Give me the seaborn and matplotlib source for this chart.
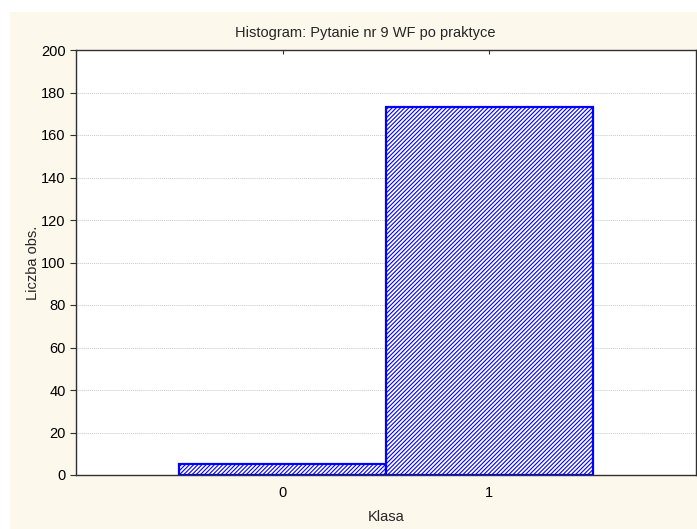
import matplotlib
matplotlib.use("Agg")
import matplotlib.pyplot as plt
import matplotlib.patches as mpatches
import pandas as pd
import seaborn as sns

klasy = ["0", "1"]
liczby = [5, 173]
y_ticks = list(range(0, 201, 20))

sns.set_style("white")
plt.rcParams["font.family"] = ["Liberation Sans", "DejaVu Sans"]
plt.rcParams["hatch.color"] = "#3a3aff"
plt.rcParams["hatch.linewidth"] = 0.8

W, H = 697, 529
fig = plt.figure(figsize=(W / 100, H / 100), dpi=100, facecolor="white")
fig.patches.append(mpatches.Rectangle((10 / W, 0), 1 - 10 / W, 1 - 12 / H,
                                      transform=fig.transFigure, facecolor="#fdf8ec",
                                      edgecolor="none", zorder=-10))
ax = fig.add_axes([76 / W, 1 - 475 / H, 620 / W, 425 / H])
ax.set_facecolor("white")

df = pd.DataFrame({"Klasa": klasy, "Liczba": liczby})
sns.barplot(data=df, x="Klasa", y="Liczba", ax=ax, width=1.0, color="white",
            edgecolor="#0000ff", linewidth=1.6, saturation=1)
for p in ax.patches:
    p.set_hatch("////////")
    p.set_facecolor("white")
    p.set_zorder(3)

ax.set_xlim(-1, 2)
ax.set_ylim(0, 200)
ax.set_yticks(y_ticks)
ax.yaxis.grid(True, color="#c8c8c8", linestyle=(0, (1, 1)), linewidth=0.7)
ax.set_axisbelow(True)
for s in ax.spines.values():
    s.set_color("#303030")
    s.set_linewidth(1.0)
ax.tick_params(axis="y", left=True, right=True, direction="out", length=4,
               labelsize=10.5, colors="#303030", labelcolor="black")
ax.tick_params(axis="x", bottom=True, top=True, direction="in", length=3,
               labelsize=10.5, colors="#303030", labelcolor="black", pad=8)
ax.set_xlabel("Klasa", fontsize=10.5, va="center")
ax.set_ylabel("Liczba obs.", fontsize=10.5, va="center")
ax.xaxis.set_label_coords(0.5, -(517 - 475) / 425)
ax.yaxis.set_label_coords(-(76 - 33) / 620, 0.5)
fig.text(365 / W, 1 - 33 / H, "Histogram: Pytanie nr 9 WF po praktyce",
         ha="center", va="center", fontsize=10.5)

fig.savefig("out.png", dpi=100, facecolor=fig.get_facecolor())
